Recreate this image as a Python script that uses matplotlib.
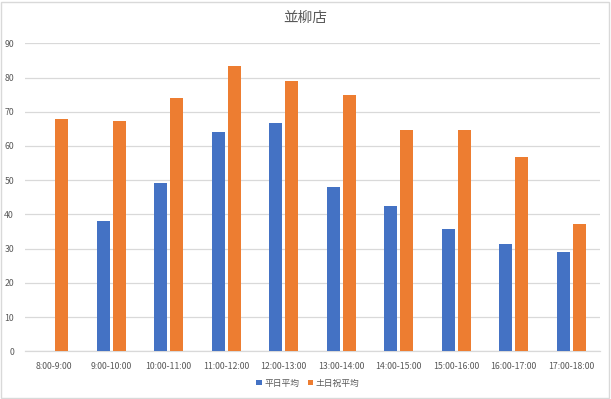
import numpy as np
import matplotlib.pyplot as plt
from matplotlib.patches import Rectangle

plt.rcParams['font.family'] = ['Noto Sans CJK JP', 'DejaVu Sans']

# data
hours = ['8:00-9:00', '9:00-10:00', '10:00-11:00', '11:00-12:00', '12:00-13:00',
         '13:00-14:00', '14:00-15:00', '15:00-16:00', '16:00-17:00', '17:00-18:00']
weekday = [0, 38.1, 49.2, 64.1, 66.7, 48.0, 42.5, 35.7, 31.3, 29.0]
holiday = [67.9, 67.3, 74.0, 83.4, 79.0, 74.9, 64.6, 64.6, 56.8, 37.2]
series_names = ['平日平均', '土日祝平均']

blue = '#4472C4'
orange = '#ED7D31'
grey_txt = '#595959'
grid_c = '#D9D9D9'

fig = plt.figure(figsize=(6.11, 3.99), dpi=100)
ax = fig.add_axes([25 / 611, 1 - 351.3 / 399, 575 / 611, 308 / 399])

x = np.arange(len(hours))
w = 0.226
off = 0.139
ax.bar(x - off, weekday, width=w, color=blue, label=series_names[0], zorder=3)
ax.bar(x + off, holiday, width=w, color=orange, label=series_names[1], zorder=3)

ax.set_xlim(-0.5, len(hours) - 0.5)
ax.set_ylim(0, 90)
ax.set_yticks(np.arange(0, 91, 10))
ax.set_xticks(x)
ax.set_xticklabels(hours)
ax.tick_params(axis='both', length=0, labelsize=6.3, colors=grey_txt)
ax.tick_params(axis='x', pad=8)
ax.tick_params(axis='y', pad=8)
ax.grid(axis='y', color=grid_c, linewidth=0.9, zorder=0)
for s in ['top', 'right', 'left']:
    ax.spines[s].set_visible(False)
ax.spines['bottom'].set_color(grid_c)
ax.spines['bottom'].set_linewidth(0.9)

fig.text(305 / 611, 1 - 18 / 399, '並柳店', ha='center', va='center',
         fontsize=10.5, color=grey_txt)

leg = fig.legend(loc='center', bbox_to_anchor=(308 / 611, 1 - 383 / 399), ncol=2,
                 frameon=False, fontsize=6.3, handlelength=0.6, handleheight=0.6,
                 handletextpad=0.3, columnspacing=1.0, labelcolor=grey_txt)

# light border round the chart
fig.patches.append(Rectangle((0.002, 0.003), 0.995, 0.993, transform=fig.transFigure,
                             fill=False, edgecolor='#D9D9D9', linewidth=1.0))

fig.savefig('out.png', dpi=100, facecolor='white')
